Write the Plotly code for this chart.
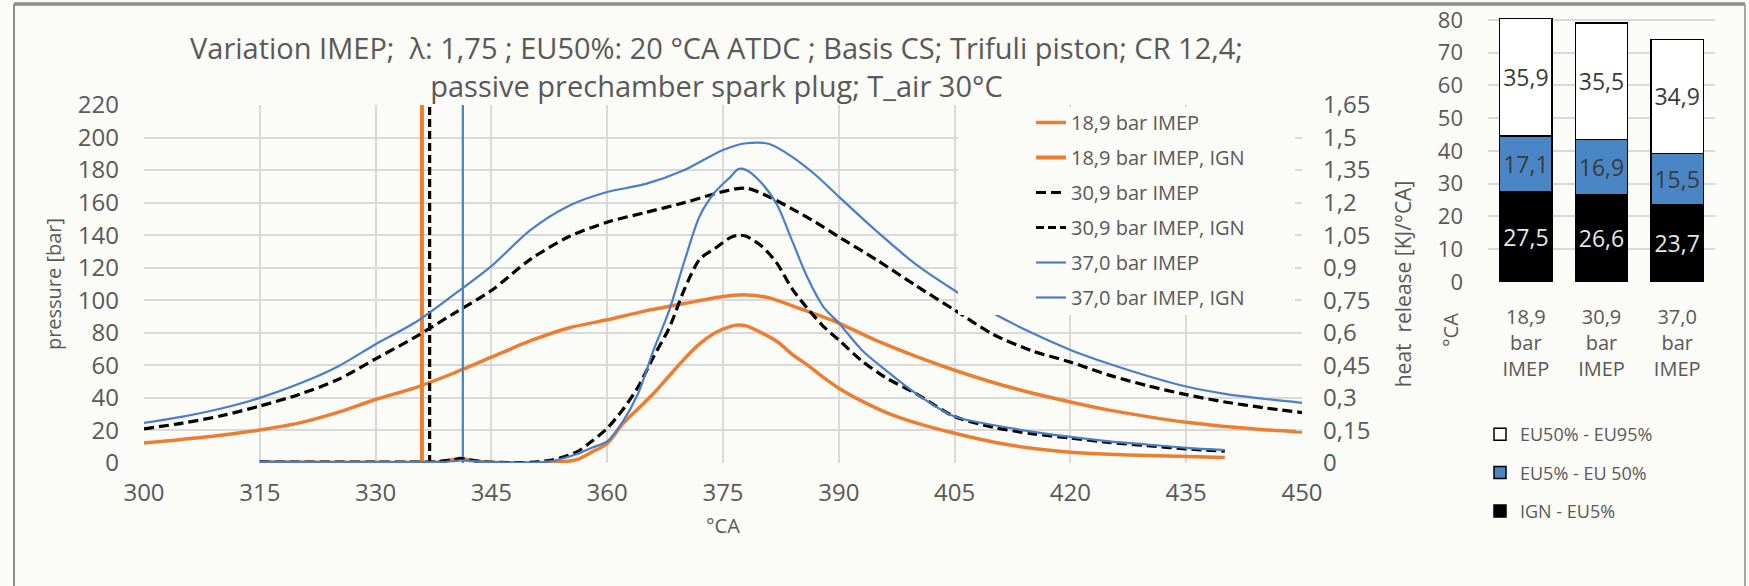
import plotly.graph_objects as go

W, H = 1749, 586

# ---------------- data ----------------
# crank angle grid for cylinder pressure [°CA]
ca_p = [300, 305, 310, 315, 320, 325, 330, 335, 340, 345, 350, 355, 360, 365, 370,
        375, 378, 381, 384, 387, 390, 395, 400, 405, 410, 415, 420, 425, 430, 435,
        440, 445, 450]
# cylinder pressure [bar]
p_18_9 = [12.3, 14.5, 17.0, 20.3, 24.5, 31.0, 39.0, 46.0, 55.0, 65.0, 75.0, 83.0, 88.0, 93.5, 98.0,
          102.3, 103.3, 101.5, 96.5, 91.5, 86.0, 75.0, 65.5, 57.0, 49.5, 43.0, 37.5, 32.5, 28.5, 25.0,
          22.5, 20.5, 19.0]
p_30_9 = [21.0, 24.5, 29.0, 35.0, 42.0, 51.0, 64.0, 77.0, 91.5, 106.0, 125.0, 139.0, 148.0, 154.0, 160.0,
          166.8, 168.9, 163.5, 156.0, 148.0, 139.0, 124.5, 109.0, 94.0, 79.0, 69.0, 62.0, 54.0, 47.5, 42.0,
          37.5, 34.0, 31.0]
p_37_0 = [24.6, 28.5, 33.5, 40.0, 48.5, 59.0, 73.0, 86.0, 103.0, 121.0, 143.0, 158.0, 166.5, 171.5, 180.0,
          192.4, 196.5, 196.0, 188.0, 177.0, 163.7, 142.0, 122.0, 106.0, 92.0, 80.0, 69.5, 61.0, 53.5, 47.0,
          42.5, 39.5, 37.0]

# crank angle grid for heat release [°CA]
ca_hr = [315, 320, 325, 330, 335, 338, 340, 341, 342, 344, 346, 350, 353, 356, 358, 360, 362, 364,
         366, 368, 370, 372, 374, 376, 377, 378, 380, 382, 384, 386, 388, 390, 393, 396, 400, 405,
         410, 415, 420, 425, 430, 435, 440]
# heat release rate [kJ/°CA]
hr_18_9 = [0.005, 0.004, 0.004, 0.003, 0.003, 0.004, 0.015, 0.022, 0.015, 0.005, 0.002, 0.0, 0.002,
           0.015, 0.05, 0.09, 0.18, 0.25, 0.32, 0.40, 0.48, 0.55, 0.60, 0.63, 0.636, 0.632, 0.60, 0.56,
           0.50, 0.45, 0.395, 0.345, 0.285, 0.235, 0.185, 0.137, 0.097, 0.068, 0.05, 0.04, 0.034, 0.03, 0.025]
hr_30_9 = [0.005, 0.004, 0.004, 0.004, 0.004, 0.006, 0.015, 0.02, 0.015, 0.006, 0.003, 0.003, 0.015,
           0.05, 0.10, 0.16, 0.245, 0.35, 0.49, 0.62, 0.80, 0.94, 0.99, 1.04, 1.05, 1.045, 1.0, 0.92,
           0.80, 0.71, 0.63, 0.567, 0.47, 0.395, 0.32, 0.214, 0.165, 0.135, 0.115, 0.095, 0.08, 0.065, 0.055]
hr_37_0 = [0.005, 0.005, 0.004, 0.004, 0.004, 0.004, 0.008, 0.012, 0.01, 0.005, 0.003, 0.002, 0.01,
           0.04, 0.07, 0.10, 0.19, 0.32, 0.52, 0.70, 0.93, 1.14, 1.25, 1.32, 1.355, 1.35, 1.29, 1.19,
           1.02, 0.85, 0.72, 0.645, 0.52, 0.43, 0.32, 0.214, 0.175, 0.145, 0.12, 0.10, 0.085, 0.07, 0.06]

# ignition timing [°CA] and the pressure span of the ignition markers [bar]
ign_ca = [336.0, 337.0, 341.3]
ign_span = [0, 220]

# burn duration bar chart [°CA]
bar_cats = ["18,9<br>bar<br>IMEP", "30,9<br>bar<br>IMEP", "37,0<br>bar<br>IMEP"]
ign_eu5 = [27.5, 26.6, 23.7]
eu5_eu50 = [17.1, 16.9, 15.5]
eu50_eu95 = [35.9, 35.5, 34.9]

x_ticks = list(range(300, 451, 15))
y_ticks = list(range(0, 221, 20))
y2_ticks = [0, 0.15, 0.3, 0.45, 0.6, 0.75, 0.9, 1.05, 1.2, 1.35, 1.5, 1.65]
y2_text = ["0", "0,15", "0,3", "0,45", "0,6", "0,75", "0,9", "1,05", "1,2", "1,35", "1,5", "1,65"]
bar_ticks = list(range(0, 81, 10))

TITLE = ("Variation IMEP;  λ: 1,75 ; EU50%: 20 °CA ATDC ; Basis CS; Trifuli piston; CR 12,4;<br>"
         "passive prechamber spark plug; T_air 30°C")

# ---------------- style ----------------
BG = "#fbfbf7"
GRID = "#d9d9d9"
TXT = "#595959"
ORANGE = "#ed7d31"
BLUE = "#4a7ec7"
BARBLUE = "#4a86c6"
FONT = "Open Sans"


def fmt(v):
    return f"{v:.1f}".replace(".", ",")


fig = go.Figure()

dash_black = "10px,5px"
SPL = dict(shape="spline", smoothing=0.8)
# legend traces (pressure + ignition)
fig.add_trace(go.Scatter(x=ca_p, y=p_18_9, mode="lines", name="18,9 bar IMEP",
                         line=dict(color=ORANGE, width=3.5, **SPL), legendgroup="g1"))
fig.add_trace(go.Scatter(x=[ign_ca[0]] * 2, y=ign_span, mode="lines", name="18,9 bar IMEP, IGN",
                         line=dict(color=ORANGE, width=4), legendgroup="g2"))
fig.add_trace(go.Scatter(x=ca_p, y=p_30_9, mode="lines", name="30,9 bar IMEP",
                         line=dict(color="black", width=3.2, dash=dash_black, **SPL), legendgroup="g3"))
fig.add_trace(go.Scatter(x=[ign_ca[1]] * 2, y=ign_span, mode="lines", name="30,9 bar IMEP, IGN",
                         line=dict(color="black", width=3.2, dash="8px,4px"), legendgroup="g4"))
fig.add_trace(go.Scatter(x=ca_p, y=p_37_0, mode="lines", name="37,0 bar IMEP",
                         line=dict(color=BLUE, width=2.2, **SPL), legendgroup="g5"))
fig.add_trace(go.Scatter(x=[ign_ca[2]] * 2, y=ign_span, mode="lines", name="37,0 bar IMEP, IGN",
                         line=dict(color=BLUE, width=2.2), legendgroup="g6"))

# heat release curves (secondary axis)
fig.add_trace(go.Scatter(x=ca_hr, y=hr_18_9, mode="lines", yaxis="y2", showlegend=False,
                         line=dict(color=ORANGE, width=3.5, **SPL)))
fig.add_trace(go.Scatter(x=ca_hr, y=hr_30_9, mode="lines", yaxis="y2", showlegend=False,
                         line=dict(color="black", width=3.2, dash=dash_black, **SPL)))
fig.add_trace(go.Scatter(x=ca_hr, y=hr_37_0, mode="lines", yaxis="y2", showlegend=False,
                         line=dict(color=BLUE, width=2.2, **SPL)))

# bar chart
bar_specs = [
    ("IGN - EU5%", ign_eu5, "black", "#e6e6e6", 3),
    ("EU5% - EU 50%", eu5_eu50, BARBLUE, "#3a3a3a", 2),
    ("EU50% - EU95%", eu50_eu95, "white", "#3a3a3a", 1),
]
for i, (nm, vals, col, tcol, rank) in enumerate(bar_specs):
    fig.add_trace(go.Bar(x=bar_cats, y=vals, name=nm, xaxis="x3", yaxis="y3",
                         marker=dict(color=col, line=dict(color="black", width=1.5)),
                         text=[fmt(v) for v in vals], textposition="inside",
                         insidetextanchor="middle", textangle=0,
                         textfont=dict(family=FONT, size=23, color=tcol),
                         legend="legend2", legendgroup=f"b{i}", legendrank=rank))

axis_font = dict(family=FONT, size=24, color=TXT)

fig.update_layout(
    width=W, height=H, autosize=False,
    margin=dict(l=0, r=0, t=0, b=0, pad=0, autoexpand=False),
    paper_bgcolor=BG, plot_bgcolor=BG,
    font=dict(family=FONT, color=TXT),
    barmode="stack", bargap=0.31,
    xaxis=dict(domain=[144 / W, 1302 / W], range=[300, 450], tickvals=x_ticks,
               showgrid=True, gridcolor=GRID, gridwidth=1.5, zeroline=False, showline=False,
               tickfont=axis_font, ticklabelstandoff=13, automargin=False, anchor="y"),
    yaxis=dict(domain=[1 - 463 / H, 1 - 105 / H], range=[0, 220], tickvals=y_ticks,
               showgrid=True, gridcolor=GRID, gridwidth=1.5, zeroline=False, showline=False,
               tickfont=axis_font, ticklabelstandoff=24, automargin=False,
               title=dict(text="pressure [bar]", font=dict(family=FONT, size=20, color=TXT), standoff=10),
               anchor="x"),
    yaxis2=dict(overlaying="y", side="right", anchor="x", range=[0, 1.65],
                tickvals=y2_ticks, ticktext=y2_text, showgrid=False, zeroline=False, showline=False,
                ticks="inside", ticklen=6, tickcolor=GRID, tickwidth=1.5, automargin=False,
                tickfont=axis_font, ticklabelstandoff=20,
                title=dict(text="heat  release [KJ/°CA]", font=dict(family=FONT, size=21, color=TXT),
                           standoff=26)),
    xaxis3=dict(domain=[1488 / W, 1715 / W], anchor="y3", showgrid=False, zeroline=False,
                showline=False, tickfont=dict(family=FONT, size=20, color=TXT), ticklabelstandoff=21,
                automargin=False),
    yaxis3=dict(domain=[1 - 282 / H, 1 - 18 / H], anchor="x3", range=[0, 80.6], tickvals=bar_ticks,
                showgrid=True, gridcolor=GRID, gridwidth=1.5, zeroline=False, showline=False,
                tickfont=dict(family=FONT, size=22, color=TXT), ticklabelstandoff=24, automargin=False),
    legend=dict(x=1031 / W, y=1 - 103 / H, xanchor="left", yanchor="top", bgcolor="rgba(0,0,0,0)",
                font=dict(family=FONT, size=20, color=TXT), traceorder="grouped",
                tracegroupgap=6, itemwidth=30),
    legend2=dict(x=1480 / W, y=1 - 416 / H, xanchor="left", yanchor="top", bgcolor="rgba(0,0,0,0)",
                 font=dict(family=FONT, size=18, color=TXT), traceorder="grouped",
                 tracegroupgap=12, itemwidth=30),
    showlegend=True,
)

# legend background box (covers the grid and curves behind the legend, as in the source chart)
fig.add_shape(type="rect", xref="paper", yref="paper", x0=958 / W, x1=1295 / W,
              y0=1 - 315 / H, y1=1 - 107 / H, fillcolor=BG, line=dict(width=0), layer="above")

# titles and free-standing axis titles
fig.add_annotation(text=TITLE, x=716 / W, y=1 - 66 / H, xref="paper", yref="paper", showarrow=False,
                   font=dict(family=FONT, size=29, color=TXT), xanchor="center", yanchor="middle",
                   align="center")
fig.add_annotation(text="°CA", x=375, y=1 - 525 / H, xref="x", yref="paper", showarrow=False,
                   font=dict(family=FONT, size=20, color=TXT), xanchor="center", yanchor="middle")
fig.add_annotation(text="°CA", x=1450 / W, y=1 - 330 / H, xref="paper", yref="paper",
                   showarrow=False, textangle=-90,
                   font=dict(family=FONT, size=20, color=TXT), xanchor="center", yanchor="middle")

# outer frame
FR = "#8c8c8c"
fig.add_shape(type="line", xref="paper", yref="paper", x0=14 / W, x1=1745 / W, y0=1 - 4 / H, y1=1 - 4 / H,
              line=dict(color=FR, width=3.5))
fig.add_shape(type="line", xref="paper", yref="paper", x0=14 / W, x1=14 / W, y0=0, y1=1 - 4 / H,
              line=dict(color=FR, width=2))
fig.add_shape(type="line", xref="paper", yref="paper", x0=1745 / W, x1=1745 / W, y0=0, y1=1 - 4 / H,
              line=dict(color="#a6a6a6", width=2))

fig.write_html("out.html", config={"displayModeBar": False},
               post_script="document.body.style.margin='0px';document.body.style.overflow='hidden';")
